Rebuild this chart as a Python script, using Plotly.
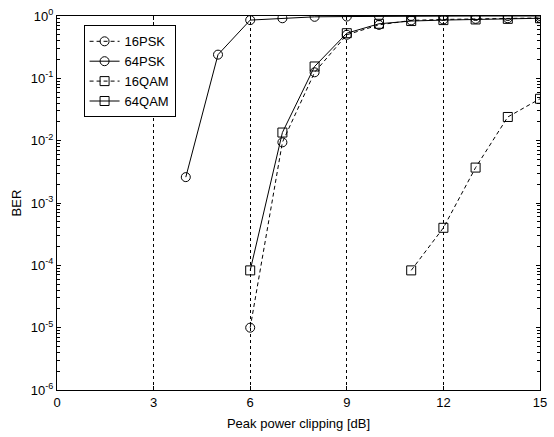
import plotly.graph_objects as go

# Data
x_16psk = [6, 7, 8, 9, 10, 11, 12, 13, 14, 15]
ber_16psk = [1e-5, 9.4e-3, 0.125, 0.50, 0.72, 0.85, 0.88, 0.90, 0.92, 0.93]

x_64psk = [4, 5, 6, 7, 8, 9, 10, 11, 12, 13, 14, 15]
ber_64psk = [2.6e-3, 0.24, 0.86, 0.92, 0.97, 0.98, 0.99, 1.0, 1.0, 1.0, 1.0, 1.0]

x_16qam = [11, 12, 13, 14, 15]
ber_16qam = [8.3e-5, 4.0e-4, 3.7e-3, 2.4e-2, 4.7e-2]

x_64qam = [6, 7, 8, 9, 10, 11, 12, 13, 14, 15]
ber_64qam = [8.3e-5, 1.35e-2, 0.155, 0.53, 0.75, 0.83, 0.86, 0.88, 0.90, 0.92]

x_ticks = [0, 3, 6, 9, 12, 15]
y_tickvals = [1e-6, 1e-5, 1e-4, 1e-3, 1e-2, 1e-1, 1]
y_ticktext = ["10<sup>-6</sup>", "10<sup>-5</sup>", "10<sup>-4</sup>", "10<sup>-3</sup>",
              "10<sup>-2</sup>", "10<sup>-1</sup>", "10<sup>0</sup>"]
y_minor = [m * d for d in y_tickvals[:-1] for m in range(2, 10)]

font = "Liberation Sans, Arial, sans-serif"
fig = go.Figure()

def add(name, x, y, dash, symbol):
    fig.add_trace(go.Scatter(
        x=x, y=y, name=name, mode="lines+markers",
        line=dict(color="black", width=1, dash=dash),
        marker=dict(symbol=symbol, size=9, color="black",
                    line=dict(color="black", width=1)),
    ))

add("16PSK", x_16psk, ber_16psk, "4px,3px", "circle-open")
add("64PSK", x_64psk, ber_64psk, "solid", "circle-open")
add("16QAM", x_16qam, ber_16qam, "4px,3px", "square-open")
add("64QAM", x_64qam, ber_64qam, "solid", "square-open")

fig.update_layout(
    width=554, height=437,
    margin=dict(l=57, r=7, t=16, b=47),
    paper_bgcolor="white", plot_bgcolor="white",
    font=dict(family=font, size=13, color="black"),
    showlegend=True,
    legend=dict(x=0.055, y=0.975, xanchor="left", yanchor="top",
                bordercolor="black", borderwidth=1, bgcolor="white",
                font=dict(size=13, family=font), tracegroupgap=0,
                itemwidth=30),
    xaxis=dict(range=[0, 15], tickvals=x_ticks, showline=True, linecolor="black",
               linewidth=1, mirror="ticks", ticks="inside", ticklen=4,
               tickcolor="black", showgrid=True, gridcolor="black",
               griddash="3px,3px", gridwidth=1, zeroline=False,
               tickfont=dict(size=13), ticklabeloverflow="allow",
               title=dict(text="Peak power clipping [dB]", standoff=10,
                          font=dict(size=13))),
    yaxis=dict(type="log", range=[-6, 0], tickvals=y_tickvals, ticktext=y_ticktext,
               showline=True, linecolor="black", linewidth=1, mirror="ticks",
               ticks="inside", ticklen=4, tickcolor="black", showgrid=False,
               zeroline=False, tickfont=dict(size=13),
               minor=dict(ticks="inside", ticklen=3, tickcolor="black",
                          tickvals=y_minor, showgrid=False),
               title=dict(text="BER", standoff=6, font=dict(size=13))),
)

fig.write_html("out.html")
